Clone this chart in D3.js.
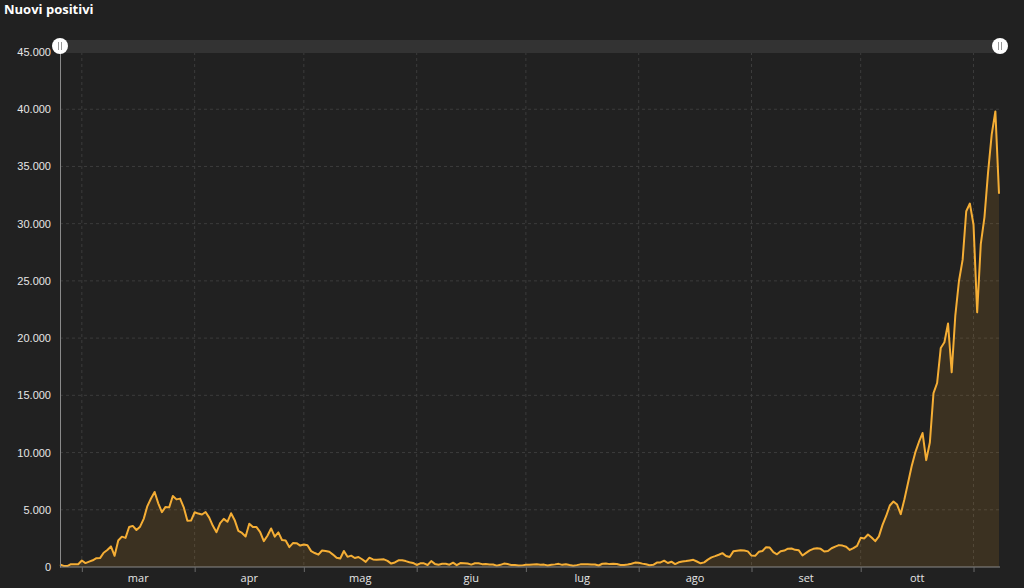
<!DOCTYPE html>
<html><head><meta charset="utf-8">
<script src="https://cdn.jsdelivr.net/npm/d3@7"></script>
<style>
html,body{margin:0;padding:0;background:#212121;}
svg{display:block;font-family:"Open Sans","Noto Sans",sans-serif;}
</style></head>
<body><svg id="c" width="1024" height="588"></svg>
<script>
const startDate = "2020-02-24";
const values = [
221,93,78,250,238,240,
566,342,466,587,769,778,1247,1492,1797,977,2313,2651,2547,3497,3590,3233,3526,4207,5322,5986,6557,5560,4789,5249,5210,6203,5909,5974,5217,4050,4053,
4782,4668,4585,4805,4316,3599,3039,3836,4204,3951,4694,4092,3153,2972,2667,3786,3493,3491,3047,2256,2729,3370,2646,3021,2357,2324,1739,2091,2086,1872,
1965,1900,1389,1221,1075,1444,1401,1327,1083,802,744,1402,888,992,789,875,675,451,813,665,642,652,669,531,300,397,584,593,516,416,355,
178,318,321,177,518,270,197,280,283,202,379,163,346,338,301,210,329,333,251,262,224,218,122,190,296,255,175,174,126,142,
187,201,223,235,192,208,138,193,229,276,188,234,169,114,163,230,233,249,219,218,129,282,306,252,275,255,170,181,212,289,386,
379,295,239,159,190,384,402,552,347,463,259,412,481,523,574,629,479,320,403,642,845,947,1071,1210,953,878,1367,1411,1460,1444,1365,
996,975,1326,1397,1733,1695,1297,1108,1370,1434,1597,1616,1501,1458,1008,1229,1452,1585,1638,1587,1350,1392,1640,1786,1912,1869,1766,1494,1648,1851,
2548,2499,2844,2578,2257,2677,3678,4458,5372,5724,5456,4619,5901,7332,8804,10010,10925,11705,9338,10874,15199,16079,19143,19644,21273,17012,21994,24991,26831,31084,31758,
29907,22253,28244,30550,34505,37809,39811,32616
];
const yTicks = [0,5000,10000,15000,20000,25000,30000,35000,40000,45000];
const monthLabels = ["mar","apr","mag","giu","lug","ago","set","ott"];
const monthStarts = ["2020-03-01","2020-04-01","2020-05-01","2020-06-01","2020-07-01","2020-08-01","2020-09-01","2020-10-01","2020-11-01"];
const title = "Nuovi positivi";

const parse = d3.utcParse("%Y-%m-%d");
const t0 = parse(startDate);
const data = values.map((v,i)=>({date:d3.utcDay.offset(t0,i), v}));
const loc = d3.formatLocale({decimal:",",thousands:".",grouping:[3],currency:["","€"]});
const fmt = loc.format(",");

const svg = d3.select("#c");
const L=60, R=999, T=52, B=567;
const x = d3.scaleUtc().domain([data[0].date, data[data.length-1].date]).range([L,R]);
const y = d3.scaleLinear().domain([0,45000]).range([B,T]);

// gridlines
svg.append("g").selectAll("line").data(yTicks.slice(1)).join("line")
  .attr("x1",L).attr("x2",1000).attr("y1",d=>y(d)).attr("y2",d=>y(d))
  .attr("stroke","#3c3c3c").attr("stroke-dasharray","3,3");
const ms = monthStarts.map(parse);
svg.append("g").selectAll("line").data(ms).join("line")
  .attr("x1",d=>x(d)).attr("x2",d=>x(d)).attr("y1",T).attr("y2",B)
  .attr("stroke","#3c3c3c").attr("stroke-dasharray","3,3");

// area + line
svg.append("path").datum(data)
  .attr("d", d3.area().x(d=>x(d.date)).y0(B).y1(d=>y(d.v)))
  .attr("fill","#f5a623").attr("fill-opacity",0.12);
svg.append("path").datum(data)
  .attr("d", d3.line().x(d=>x(d.date)).y(d=>y(d.v)))
  .attr("fill","none").attr("stroke","#f5ae35").attr("stroke-width",2).attr("stroke-linejoin","round");

// axes
const ya = svg.append("g").attr("transform",`translate(${L},0)`)
  .call(d3.axisLeft(y).tickValues(yTicks).tickFormat(fmt).tickSize(0).tickPadding(9));
ya.select(".domain").attr("stroke","#8a8a8a");
ya.selectAll("text").attr("fill","#e6e6e6").attr("font-size",11);

const xa = svg.append("g").attr("transform",`translate(0,${B})`)
  .call(d3.axisBottom(x).tickValues(ms).tickFormat("").tickSize(5));
xa.select(".domain").attr("stroke","#8a8a8a").attr("d",`M${L},0H1000`);
xa.selectAll(".tick line").attr("stroke","#6a6a6a");
svg.append("g").selectAll("text").data(monthLabels).join("text")
  .attr("x",(d,i)=>(x(ms[i])+x(ms[i+1]))/2).attr("y",582)
  .attr("text-anchor","middle").attr("fill","#e6e6e6").attr("font-size",11).text(d=>d);

// scrollbar
svg.append("rect").attr("x",L).attr("y",40).attr("width",1000-L).attr("height",13).attr("fill","#333333");
[L,1000].forEach(cx=>{
  const g=svg.append("g").attr("transform",`translate(${cx},46)`);
  g.append("circle").attr("r",8).attr("fill","#ffffff");
  g.append("line").attr("x1",-1.5).attr("x2",-1.5).attr("y1",-4).attr("y2",4).attr("stroke","#999").attr("stroke-width",1);
  g.append("line").attr("x1",1.5).attr("x2",1.5).attr("y1",-4).attr("y2",4).attr("stroke","#999").attr("stroke-width",1);
});

svg.append("text").attr("x",4).attr("y",14).attr("fill","#ffffff").attr("font-size",13).attr("font-weight","bold").text(title);
</script></body></html>
